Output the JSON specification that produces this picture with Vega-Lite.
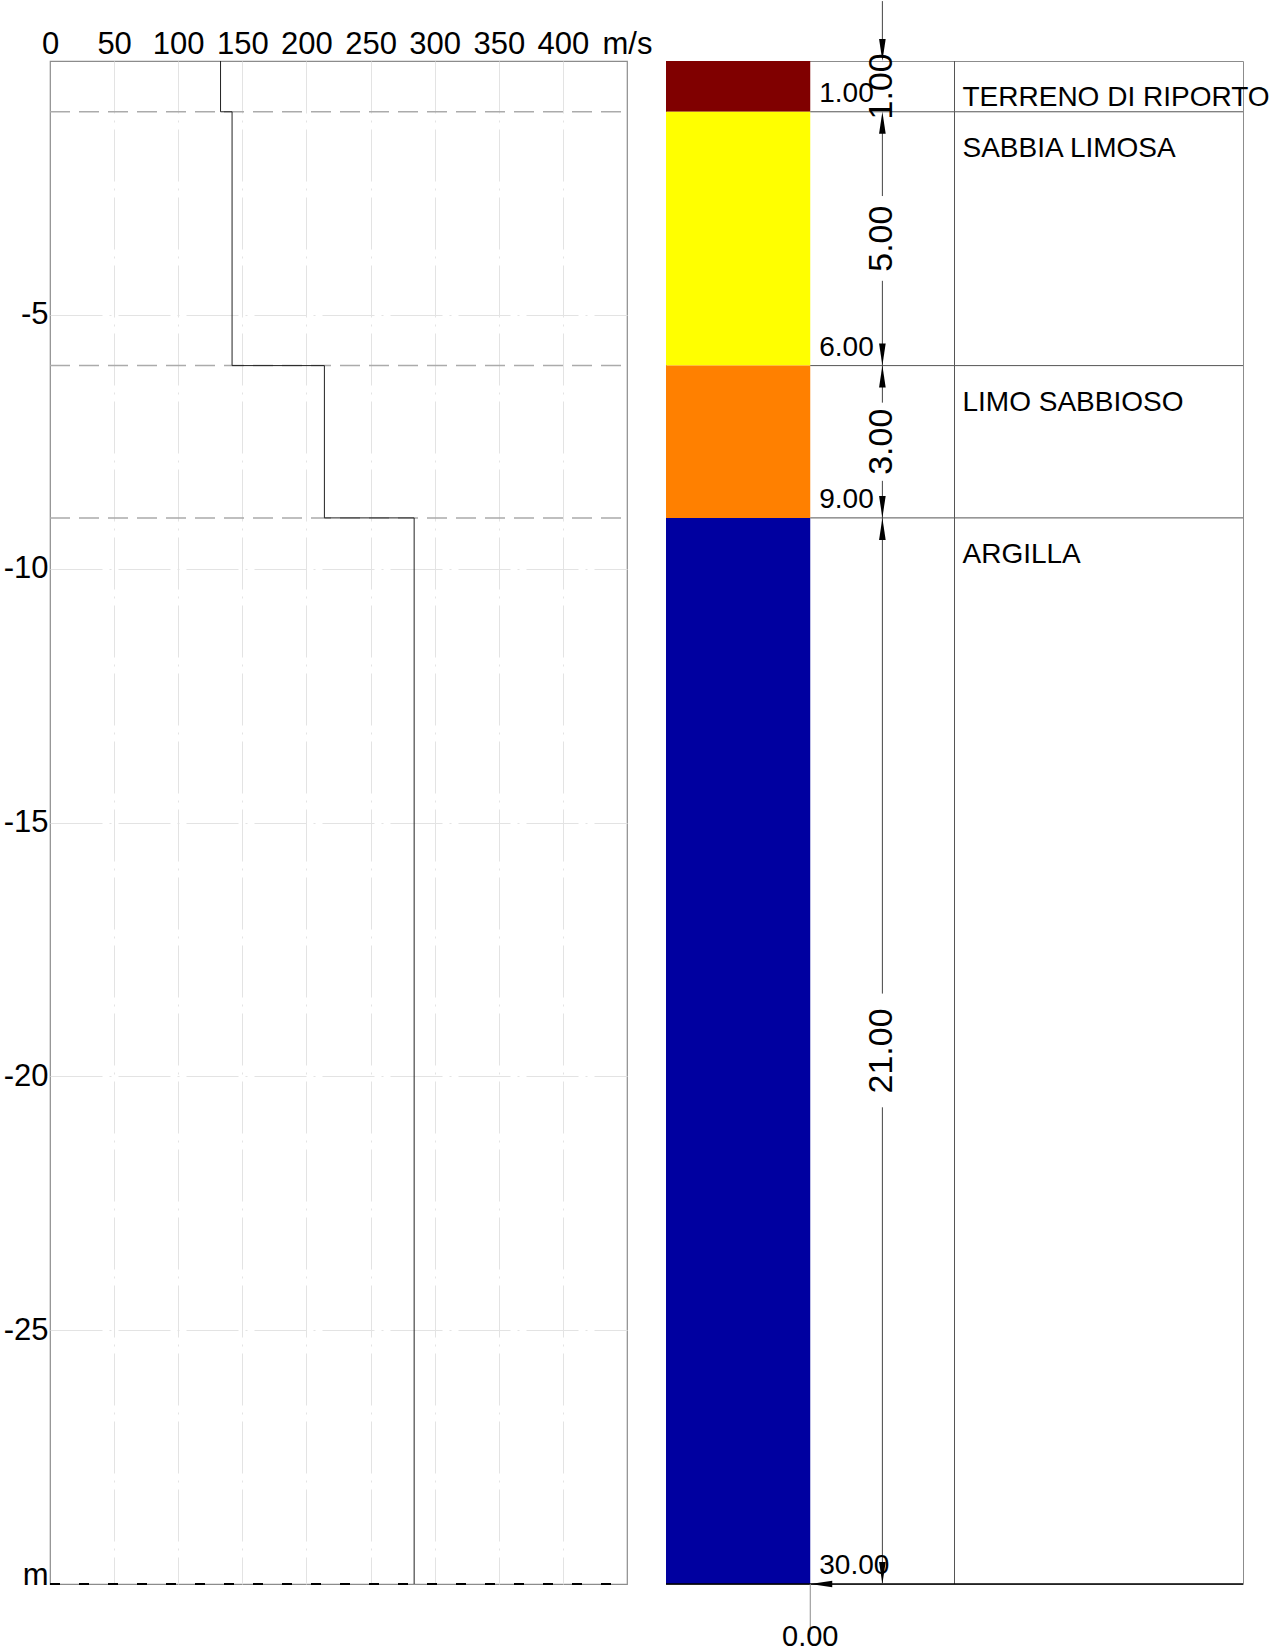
{
  "$schema": "https://vega.github.io/schema/vega-lite/v6.json",
  "background": "white",
  "padding": {"left": 2, "top": 0, "right": 0, "bottom": 0},
  "config": {
    "view": {"stroke": null},
    "font": "Liberation Sans",
    "text": {"font": "Liberation Sans", "color": "#000000"}
  },
  "datasets": {
    "layers": [
      {"name": "TERRENO DI RIPORTO", "top": 0, "bottom": 1, "thick": 1, "vs": 133},
      {"name": "SABBIA LIMOSA", "top": 1, "bottom": 6, "thick": 5, "vs": 142},
      {"name": "LIMO SABBIOSO", "top": 6, "bottom": 9, "thick": 3, "vs": 214},
      {"name": "ARGILLA", "top": 9, "bottom": 30, "thick": 21, "vs": 284}
    ],
    "dimline": [
      {"from": -1.18, "to": -0.16},
      {"from": 1.12, "to": 2.66},
      {"from": 4.33, "to": 6.73},
      {"from": 8.27, "to": 18.37},
      {"from": 20.61, "to": 30}
    ],
    "arrows": [
      {"depth": 0, "dir": "down"},
      {"depth": 6, "dir": "down"},
      {"depth": 9, "dir": "down"},
      {"depth": 30, "dir": "down"},
      {"depth": 1, "dir": "up"},
      {"depth": 6, "dir": "up"},
      {"depth": 9, "dir": "up"}
    ]
  },
  "spacing": 39,
  "bounds": "flush",
  "resolve": {"scale": {"x": "independent", "y": "independent"}},
  "hconcat": [
    {
      "width": 577,
      "height": 1523,
      "view": {"stroke": "#8c8c8c", "strokeWidth": 1.2},
      "data": {"name": "layers"},
      "layer": [
        {
          "transform": [{"filter": "datum.bottom < 30"}],
          "mark": {"type": "rule", "color": "#ababab", "strokeWidth": 1.5, "strokeDash": [20, 9]},
          "encoding": {
            "x": {
              "datum": 0,
              "type": "quantitative",
              "scale": {"domain": [0, 450], "nice": false, "zero": false},
              "axis": {
                "orient": "top",
                "values": [0, 50, 100, 150, 200, 250, 300, 350, 400, 450],
                "labelExpr": "datum.value === 450 ? 'm/s' : datum.label",
                "title": null,
                "domain": false,
                "ticks": false,
                "tickSize": 0,
                "labelPadding": 1,
                "labelFont": "Liberation Sans",
                "labelFontSize": 31,
                "labelColor": "#000000",
                "labelFlush": false,
                "labelOverlap": false,
                "labelBound": false,
                "grid": true,
                "gridColor": "#e3e3e3",
                "gridWidth": 1,
                "gridDash": [52, 7, 2, 7],
                "gridOpacity": {"condition": {"test": "datum.value === 0 || datum.value === 450", "value": 0}, "value": 1}
              }
            },
            "x2": {"datum": 450},
            "y": {
              "field": "bottom",
              "type": "quantitative",
              "scale": {"domain": [0, 30], "reverse": true, "nice": false, "zero": false},
              "axis": {
                "orient": "left",
                "values": [5, 10, 15, 20, 25, 30],
                "labelExpr": "datum.value === 30 ? 'm' : '-' + datum.label",
                "title": null,
                "domain": false,
                "ticks": false,
                "tickSize": 0,
                "labelPadding": 2,
                "labelFont": "Liberation Sans",
                "labelFontSize": 31,
                "labelColor": "#000000",
                "labelFlush": false,
                "labelOverlap": false,
                "labelBound": false,
                "labelBaseline": {"condition": {"test": "datum.value === 30", "value": "alphabetic"}, "value": "middle"},
                "grid": true,
                "gridColor": "#e3e3e3",
                "gridWidth": 1,
                "gridDash": [52, 7, 2, 7],
                "gridOpacity": {"condition": {"test": "datum.value === 30", "value": 0}, "value": 1}
              }
            }
          }
        },
        {
          "transform": [{"filter": "datum.bottom === 30"}],
          "mark": {"type": "rule", "color": "#000000", "strokeWidth": 2, "strokeDash": [10, 19]},
          "encoding": {
            "x": {"datum": 0, "type": "quantitative"},
            "x2": {"datum": 450},
            "y": {"field": "bottom", "type": "quantitative"}
          }
        },
        {
          "mark": {"type": "rule", "color": "#222222", "strokeWidth": 1},
          "encoding": {
            "x": {"field": "vs", "type": "quantitative"},
            "y": {"field": "top", "type": "quantitative"},
            "y2": {"field": "bottom"}
          }
        },
        {
          "transform": [
            {"window": [{"op": "lead", "field": "vs", "as": "vs_next"}], "sort": [{"field": "top", "order": "ascending"}]},
            {"filter": "datum.vs_next != null"}
          ],
          "mark": {"type": "rule", "color": "#222222", "strokeWidth": 1},
          "encoding": {
            "x": {"field": "vs", "type": "quantitative"},
            "x2": {"field": "vs_next"},
            "y": {"field": "bottom", "type": "quantitative"}
          }
        }
      ]
    },
    {
      "width": 577,
      "height": 1523,
      "view": {"stroke": "#8c8c8c", "strokeWidth": 1},
      "layer": [
        {
          "data": {"name": "layers"},
          "mark": {"type": "rect"},
          "encoding": {
            "x": {"datum": 0, "type": "quantitative", "scale": {"domain": [0, 4], "nice": false, "zero": false}, "axis": null},
            "x2": {"datum": 1},
            "y": {"field": "top", "type": "quantitative", "scale": {"domain": [0, 30], "reverse": true, "nice": false, "zero": false}, "axis": null},
            "y2": {"field": "bottom"},
            "color": {
              "field": "name",
              "type": "nominal",
              "scale": {
                "domain": ["TERRENO DI RIPORTO", "SABBIA LIMOSA", "LIMO SABBIOSO", "ARGILLA"],
                "range": ["#800000", "#ffff00", "#ff8000", "#0000a0"]
              },
              "legend": null
            }
          }
        },
        {
          "data": {"name": "layers"},
          "transform": [{"filter": "datum.bottom < 30"}],
          "mark": {"type": "rule", "color": "#555555", "strokeWidth": 1},
          "encoding": {
            "x": {"datum": 1, "type": "quantitative", "axis": null},
            "x2": {"datum": 4},
            "y": {"field": "bottom", "type": "quantitative", "axis": null}
          }
        },
        {
          "data": {"name": "layers"},
          "mark": {"type": "rule", "color": "#555555", "strokeWidth": 1},
          "encoding": {
            "x": {"datum": 2, "type": "quantitative", "axis": null},
            "y": {"field": "top", "type": "quantitative", "axis": null},
            "y2": {"field": "bottom"}
          }
        },
        {
          "data": {"name": "layers"},
          "transform": [{"filter": "datum.bottom === 30"}],
          "mark": {"type": "rule", "color": "#000000", "strokeWidth": 1.5},
          "encoding": {
            "x": {"datum": 0, "type": "quantitative", "axis": null},
            "x2": {"datum": 4},
            "y": {"field": "bottom", "type": "quantitative", "axis": null}
          }
        },
        {
          "data": {"name": "layers"},
          "transform": [{"filter": "datum.bottom === 30"}],
          "mark": {"type": "rule", "color": "#8c8c8c", "strokeWidth": 1},
          "encoding": {
            "x": {"datum": 1, "type": "quantitative", "axis": null},
            "y": {"field": "bottom", "type": "quantitative", "axis": null},
            "y2": {"datum": 31}
          }
        },
        {
          "data": {"name": "dimline"},
          "mark": {"type": "rule", "color": "#444444", "strokeWidth": 1},
          "encoding": {
            "x": {"datum": 1.5, "type": "quantitative", "axis": null},
            "y": {"field": "from", "type": "quantitative", "axis": null},
            "y2": {"field": "to"}
          }
        },
        {
          "data": {"name": "arrows"},
          "mark": {"type": "point", "filled": true, "opacity": 1, "color": "#000000", "size": 484, "strokeWidth": 0},
          "encoding": {
            "x": {"datum": 1.5, "type": "quantitative", "axis": null},
            "y": {"field": "depth", "type": "quantitative", "axis": null},
            "shape": {
              "field": "dir",
              "type": "nominal",
              "scale": {"domain": ["down", "up"], "range": ["M0,0L-0.3,-2L0.3,-2Z", "M0,0L-0.3,2L0.3,2Z"]},
              "legend": null
            }
          }
        },
        {
          "data": {"name": "layers"},
          "transform": [{"filter": "datum.bottom === 30"}],
          "mark": {"type": "point", "filled": true, "opacity": 1, "color": "#000000", "size": 484, "strokeWidth": 0, "shape": "M0,0L2,-0.3L2,0.3Z"},
          "encoding": {
            "x": {"datum": 1, "type": "quantitative", "axis": null},
            "y": {"field": "bottom", "type": "quantitative", "axis": null}
          }
        },
        {
          "data": {"name": "layers"},
          "mark": {"type": "text", "align": "left", "baseline": "alphabetic", "dx": 9, "dy": -10, "fontSize": 28, "font": "Liberation Sans"},
          "encoding": {
            "x": {"datum": 1, "type": "quantitative", "axis": null},
            "y": {"field": "bottom", "type": "quantitative", "axis": null},
            "text": {"field": "bottom", "type": "quantitative", "format": ".2f"}
          }
        },
        {
          "data": {"name": "layers"},
          "transform": [
            {"fold": ["top", "bottom"], "as": ["edge", "d"]},
            {"aggregate": [{"op": "mean", "field": "d", "as": "mid"}], "groupby": ["thick"]}
          ],
          "mark": {"type": "text", "align": "center", "baseline": "middle", "angle": 270, "fontSize": 34, "font": "Liberation Sans"},
          "encoding": {
            "x": {"datum": 1.5, "type": "quantitative", "axis": null},
            "y": {"field": "mid", "type": "quantitative", "axis": null},
            "text": {"field": "thick", "type": "quantitative", "format": ".2f"}
          }
        },
        {
          "data": {"name": "layers"},
          "mark": {"type": "text", "align": "left", "baseline": "alphabetic", "dx": 8, "dy": 45, "fontSize": 28, "font": "Liberation Sans"},
          "encoding": {
            "x": {"datum": 2, "type": "quantitative", "axis": null},
            "y": {"field": "top", "type": "quantitative", "axis": null},
            "text": {"field": "name", "type": "nominal"}
          }
        },
        {
          "data": {"name": "layers"},
          "transform": [{"filter": "datum.bottom === 30"}],
          "mark": {"type": "text", "align": "center", "baseline": "alphabetic", "dy": 62, "fontSize": 29, "font": "Liberation Sans", "text": "0.00"},
          "encoding": {
            "x": {"datum": 1, "type": "quantitative", "axis": null},
            "y": {"field": "bottom", "type": "quantitative", "axis": null}
          }
        }
      ]
    }
  ]
}
